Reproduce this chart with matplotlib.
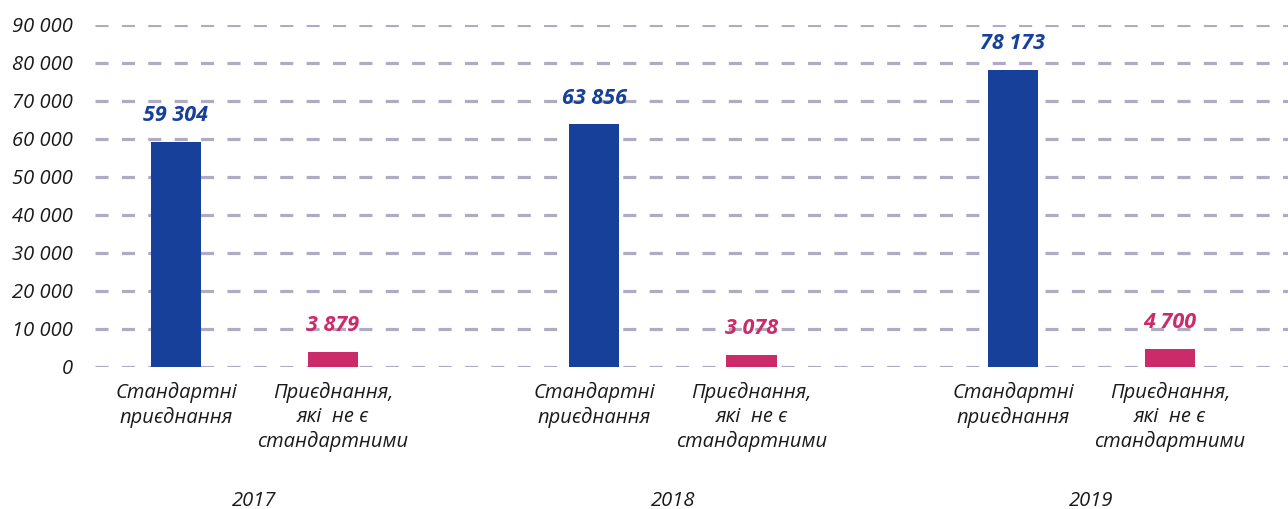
import matplotlib
matplotlib.use("Agg")
import matplotlib.pyplot as plt
import numpy as np

# data
years = ["2017", "2018", "2019"]
standard = [59304, 63856, 78173]
non_standard = [3879, 3078, 4700]
cat_standard = "Стандартні\nприєднання"
cat_non_standard = "Приєднання,\nякі  не є\nстандартними"
yticks = [0, 10000, 20000, 30000, 40000, 50000, 60000, 70000, 80000, 90000]

blue = "#17409A"
pink = "#CC2B6A"
grid_col = "#AEABC2"

plt.rcParams["font.family"] = ["Open Sans", "DejaVu Sans"]
plt.rcParams["lines.scale_dashes"] = False

fig = plt.figure(figsize=(12.88, 5.09), dpi=100)
ax = fig.add_axes([95 / 1288, 1 - 367 / 509, 1 - 95 / 1288, (367 - 25) / 509])

x = np.arange(len(years))
off = 0.1876
w = 0.1195

def fmt(v):
    return f"{v:,}".replace(",", " ")

for yv in yticks:
    ax.axhline(yv, color=grid_col, lw=2.3, dashes=(9.4, 9.6), zorder=0)

ax.bar(x - off, standard, width=w, color=blue, zorder=2)
ax.bar(x + off, non_standard, width=w, color=pink, zorder=2)

for xi, v in zip(x - off, standard):
    ax.annotate(fmt(v), (xi, v), xytext=(0, 15), textcoords="offset points",
                ha="center", va="baseline", color=blue, fontsize=15.5,
                fontweight="bold", fontstyle="italic")
for xi, v in zip(x + off, non_standard):
    ax.annotate(fmt(v), (xi, v), xytext=(0, 15), textcoords="offset points",
                ha="center", va="baseline", color=pink, fontsize=15.5,
                fontweight="bold", fontstyle="italic")

trans = ax.get_xaxis_transform()
for xi, yr in zip(x, years):
    ax.annotate(cat_standard, (xi - off, 0), xytext=(0, -11), textcoords="offset points",
                xycoords=trans, ha="center", va="top", fontsize=14.5,
                fontstyle="italic", linespacing=1.25, color="#1a1a1a")
    ax.annotate(cat_non_standard, (xi + off, 0), xytext=(0, -11), textcoords="offset points",
                xycoords=trans, ha="center", va="top", fontsize=14.5,
                fontstyle="italic", linespacing=1.25, color="#1a1a1a")
    ax.annotate(yr, (xi, 0), xytext=(0, -89), textcoords="offset points",
                xycoords=trans, ha="center", va="top", fontsize=14.5,
                fontstyle="italic", color="#1a1a1a")

ax.set_xlim(-0.381, 2.4695)
ax.set_ylim(0, 90000)
ax.set_yticks(yticks)
ax.set_yticklabels([fmt(v) for v in yticks], fontsize=14.5, fontstyle="italic", color="#1a1a1a")
ax.tick_params(axis="y", length=0, pad=16)
ax.set_xticks([])
for s in ax.spines.values():
    s.set_visible(False)

fig.savefig("out.png", dpi=100)
